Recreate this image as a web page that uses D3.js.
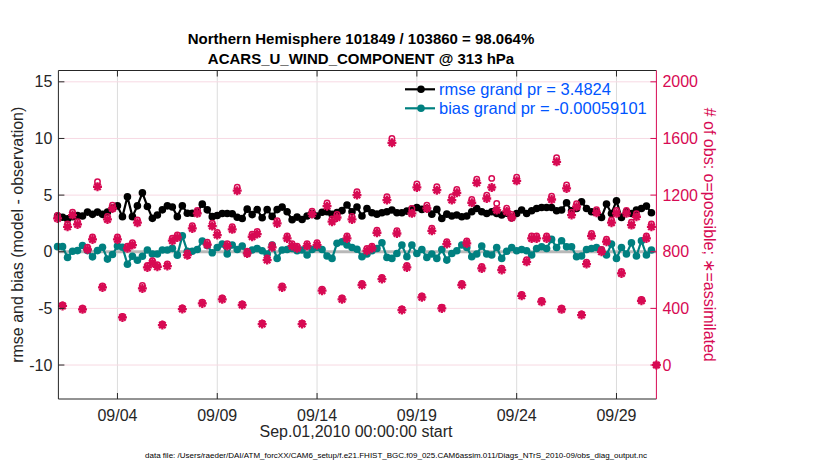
<!DOCTYPE html>
<html><head><meta charset="utf-8">
<script src="https://cdn.jsdelivr.net/npm/d3@7"></script>
<style>body{margin:0;background:#fff}svg{display:block}text{font-family:"Liberation Sans",Arial,Helvetica,sans-serif}</style>
</head><body><svg id="c" width="830" height="470"></svg>
<script>
// ---- data (6-hourly bins starting Sep 01 2010 00Z) ----
const titleLines = ["Northern Hemisphere 101849 / 103860 = 98.064%", "ACARS_U_WIND_COMPONENT @ 313 hPa"];
const startTime = "2010-09-01T00:00:00Z";
const binHours = 6;
const rmse = [3.15,3.05,2.9,3.1,3.2,3.15,3.5,3.3,3.5,3.3,3.5,3.85,4.05,3.1,4.85,3.1,4.05,5.2,4.0,2.95,3.25,3.7,4.05,3.95,3.1,4.05,3.4,3.4,3.5,4.2,3.7,
 3.1,3.2,3.38,3.38,3.35,3.05,2.94,3.76,3.28,3.72,3.0,3.72,3.12,3.72,3.94,3.53,2.82,3.06,2.85,3.16,3.38,3.16,3.48,3.53,3.3,3.45,3.63,4.12,3.53,3.95,
 3.15,3.82,3.44,3.32,3.44,3.53,3.68,3.44,3.44,3.59,3.76,3.91,3.74,3.82,3.32,3.74,2.94,3.32,3.15,3.24,3.09,3.15,3.53,3.82,3.53,3.38,3.53,3.38,3.24,3.4,
 3.0,3.38,3.68,3.38,3.62,3.82,3.91,3.91,3.91,3.62,3.68,4.32,3.62,3.82,4.41,3.82,3.53,3.53,3.03,4.21,3.38,4.5,3.03,3.53,3.38,3.68,3.82,4.03,3.44];
const bias = [0.45,0.45,-0.5,0.05,0.1,0.55,0.1,-0.45,0.1,0.4,-0.65,-0.25,0.5,0.4,-1.1,-0.4,-0.75,-0.4,0.15,-0.2,-0.2,0.15,0.15,0.3,-0.3,1.4,0.05,0.05,0.2,0.95,0.55,
 -0.09,0.38,0.68,-0.2,0.59,0.2,0.5,-0.15,0.15,0.29,0.09,-0.2,0.59,-0.59,0.15,0.2,0.29,0.09,0.15,-0.29,0.2,0.38,0.2,-0.38,-0.59,0.74,0.88,0.59,0.38,0.22,
 -0.44,-0.2,0.09,0.29,0.79,-0.5,-0.59,-0.15,0.59,-0.44,0.59,-0.15,0.2,-0.5,-0.2,-0.59,0.2,-0.74,-0.15,0.09,0.59,0.38,-0.44,-0.2,0.5,-0.2,-0.29,0.38,-0.59,0.05,
 0.38,0.09,0.2,0.09,-0.29,0.29,0.44,0.29,1.09,0.38,0.97,0.44,0.44,-0.44,-0.38,0.2,0.29,0.38,0.15,-0.29,0.68,-0.59,0.38,-0.2,0.79,-0.38,0.97,-0.29,0.15];
const nUsed = [1035,417,976,1059,993,393,816,887,1259,548,1028,1106,887,336,824,847,1005,541,689,722,694,282,699,878,901,395,776,965,1071,435,850,
 981,918,464,840,958,1231,424,788,906,925,289,741,831,1000,548,894,840,824,289,840,1066,847,525,1122,1012,1042,464,894,1028,1200,
 565,807,824,934,607,1165,1569,929,388,689,1071,1254,478,1106,948,1235,400,854,1165,1216,565,859,1146,1287,682,1176,1254,1094,671,1085,
 1042,1301,489,729,894,894,447,894,1169,1435,393,1247,1059,1118,353,713,911,1075,800,871,1005,1071,647,1071,988,1047,454,894,976,0];
const nPoss = [1056,425,996,1080,1013,401,832,905,1295,559,1049,1128,905,343,840,864,1025,562,703,736,708,288,713,896,919,403,792,984,1092,444,867,
 1001,936,473,857,977,1256,432,804,924,944,295,756,848,1020,559,912,857,840,295,857,1087,864,536,1144,1032,1063,473,912,1049,1224,
 576,823,840,953,619,1188,1600,948,396,703,1105,1279,488,1128,967,1260,408,871,1188,1240,576,876,1169,1313,696,1200,1318,1141,684,1107,
 1063,1327,499,744,912,912,456,912,1192,1464,401,1272,1080,1140,360,727,929,1097,816,888,1025,1092,660,1092,1008,1068,463,912,996,0];
const xTickDates = ["2010-09-04","2010-09-09","2010-09-14","2010-09-19","2010-09-24","2010-09-29"];
const leftTicks = [-10,-5,0,5,10,15];
const rightTicks = [0,400,800,1200,1600,2000];
const legendLabels = ["rmse grand pr = 3.4824", "bias grand pr = -0.00059101"];
const xLabel = "Sep.01,2010 00:00:00 start";
const yLabelLeft = "rmse and bias (model - observation)";
const yLabelRight = "# of obs: o=possible; \u2217=assimilated";
const fileNote = "data file: /Users/raeder/DAI/ATM_forcXX/CAM6_setup/f.e21.FHIST_BGC.f09_025.CAM6assim.011/Diags_NTrS_2010-09/obs_diag_output.nc";

// ---- layout ----
const L = 58.4, R = 656.4, T = 70.5, B = 399;
const MAG = "#d70a53", TEAL = "#008080", AX = "#262626", BLUE = "#0055ff";
const svg = d3.select("#c");
const t0 = new Date(startTime);
const tAt = k => new Date(t0.getTime() + k * binHours * 3600e3);
const x = d3.scaleUtc().domain([new Date("2010-09-01T01:00:00Z"), new Date("2010-10-01T00:00:00Z")]).range([L, R]);
const yL = d3.scaleLinear().domain([-13, 16]).range([B, T]);
const yR = d3.scaleLinear().domain([-240, 2080]).range([B, T]);
const xt = xTickDates.map(s => new Date(s + "T00:00:00Z"));

// grid
const g = svg.append("g");
g.selectAll(".vg").data(xt).join("line").attr("x1", d => x(d)).attr("x2", d => x(d)).attr("y1", T).attr("y2", B)
  .attr("stroke", "#dcdcdc").attr("stroke-width", 1);
g.selectAll(".hg").data(rightTicks).join("line").attr("x1", L).attr("x2", R).attr("y1", d => yR(d)).attr("y2", d => yR(d))
  .attr("stroke", "#f7d9e3").attr("stroke-width", 1);

// zero line
svg.append("line").attr("x1", L).attr("x2", R).attr("y1", yL(0)).attr("y2", yL(0)).attr("stroke", "#b8b8b8").attr("stroke-width", 3);

function series(vals, color) {
  const pts = vals.map((v, k) => [x(tAt(k)), yL(v)]);
  svg.append("path").attr("d", d3.line()(pts)).attr("fill", "none").attr("stroke", color).attr("stroke-width", 2.2);
  svg.append("g").selectAll("circle").data(pts).join("circle").attr("cx", d => d[0]).attr("cy", d => d[1]).attr("r", 3.8).attr("fill", color);
}
series(rmse, "#000");
series(bias, TEAL);

// counts
const star = "M-4.5,0H4.5M0,-4.5V4.5M-3.2,-3.2L3.2,3.2M-3.2,3.2L3.2,-3.2";
svg.append("g").selectAll("path").data(nUsed).join("path")
  .attr("transform", (d, k) => `translate(${x(tAt(k))},${yR(d)})`).attr("d", star)
  .attr("stroke", MAG).attr("stroke-width", 2.3).attr("fill", "none");
svg.append("g").selectAll("circle").data(nPoss).join("circle")
  .attr("cx", (d, k) => x(tAt(k))).attr("cy", d => yR(d)).attr("r", 2.7)
  .attr("stroke", MAG).attr("stroke-width", 1.5).attr("fill", "none");

// axes frame
svg.append("line").attr("x1", L).attr("x2", R).attr("y1", T).attr("y2", T).attr("stroke", AX);
svg.append("line").attr("x1", L).attr("x2", R).attr("y1", B).attr("y2", B).attr("stroke", AX);
svg.append("line").attr("x1", L).attr("x2", L).attr("y1", T).attr("y2", B).attr("stroke", AX);
svg.append("line").attr("x1", R).attr("x2", R).attr("y1", T).attr("y2", B).attr("stroke", MAG);

const fs = 16;
// x ticks
const xa = svg.append("g");
xa.selectAll(".tb").data(xt).join("line").attr("x1", d => x(d)).attr("x2", d => x(d)).attr("y1", B).attr("y2", B - 6).attr("stroke", AX);
xa.selectAll(".tt").data(xt).join("line").attr("x1", d => x(d)).attr("x2", d => x(d)).attr("y1", T).attr("y2", T + 6).attr("stroke", AX);
const fmt = d3.utcFormat("%m/%d");
xa.selectAll("text").data(xt).join("text").attr("x", d => x(d)).attr("y", 420.5).attr("text-anchor", "middle")
  .attr("font-size", fs).attr("fill", AX).text(d => fmt(d));
// left ticks
const la = svg.append("g");
la.selectAll("line").data(leftTicks).join("line").attr("x1", L).attr("x2", L + 6).attr("y1", d => yL(d)).attr("y2", d => yL(d)).attr("stroke", AX);
la.selectAll("text").data(leftTicks).join("text").attr("x", L - 6).attr("y", d => yL(d) + 5.5).attr("text-anchor", "end")
  .attr("font-size", fs).attr("fill", AX).text(d => d);
// right ticks
const ra = svg.append("g");
ra.selectAll("line").data(rightTicks).join("line").attr("x1", R).attr("x2", R - 6).attr("y1", d => yR(d)).attr("y2", d => yR(d)).attr("stroke", MAG);
ra.selectAll("text").data(rightTicks).join("text").attr("x", R + 6).attr("y", d => yR(d) + 5.5).attr("text-anchor", "start")
  .attr("font-size", fs).attr("fill", MAG).text(d => d);

// labels
const cy = (T + B) / 2;
svg.append("text").attr("transform", `translate(23,${cy}) rotate(-90)`).attr("text-anchor", "middle")
  .attr("font-size", fs).attr("fill", AX).text(yLabelLeft);
svg.append("text").attr("transform", `translate(704,${cy}) rotate(90)`).attr("text-anchor", "middle")
  .attr("font-size", fs).attr("fill", MAG).text(yLabelRight);
svg.append("text").attr("x", 356).attr("y", 437).attr("text-anchor", "middle").attr("font-size", fs).attr("fill", AX).text(xLabel);
svg.append("text").attr("x", 396).attr("y", 458).attr("text-anchor", "middle").attr("font-size", 8).attr("fill", "#000").text(fileNote);
titleLines.forEach((t, i) => svg.append("text").attr("x", 361).attr("y", 44 + i * 19.5).attr("text-anchor", "middle")
  .attr("font-size", 15).attr("font-weight", "bold").attr("fill", "#000").text(t));

// legend
[["#000", 89.3], [TEAL, 108.3]].forEach(([c, yy], i) => {
  svg.append("line").attr("x1", 405).attr("x2", 435).attr("y1", yy).attr("y2", yy).attr("stroke", c).attr("stroke-width", 2.2);
  svg.append("circle").attr("cx", 421).attr("cy", yy).attr("r", 3.8).attr("fill", c);
  svg.append("text").attr("x", 439).attr("y", yy + 5.8).attr("font-size", 16.5).attr("fill", BLUE).text(legendLabels[i]);
});
</script></body></html>
